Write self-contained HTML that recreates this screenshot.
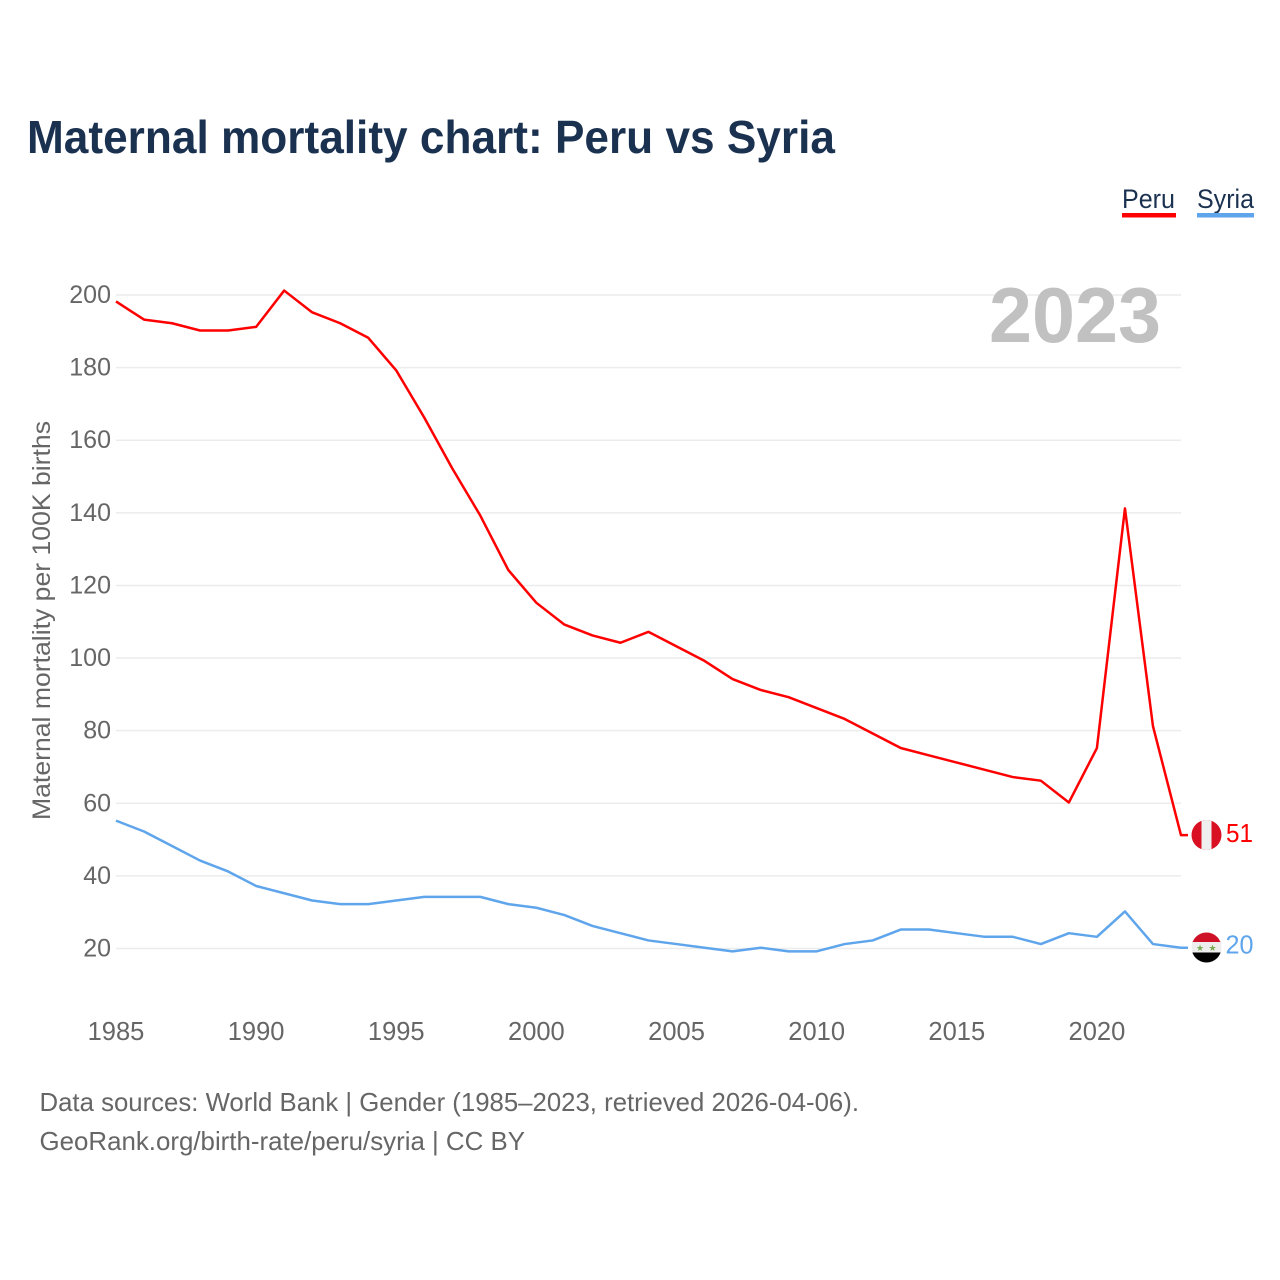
<!DOCTYPE html>
<html lang="en">
<head>
<meta charset="utf-8">
<title>Maternal mortality chart: Peru vs Syria</title>
<style>
html,body{margin:0;padding:0;background:#fff}
svg{display:block}
text{font-family:"Liberation Sans",sans-serif}
</style>
</head>
<body>
<svg id="chart" xmlns="http://www.w3.org/2000/svg" width="1280" height="1280" viewBox="0 0 1280 1280">
<defs>
<clipPath id="clip-peru"><circle cx="1206.500" cy="835" r="15"/></clipPath>
<clipPath id="clip-syria"><circle cx="1206.500" cy="947.500" r="15"/></clipPath>
</defs>
<rect x="0" y="0" width="1280" height="1280" fill="#fff"/>
<text x="27" y="153" font-size="46" font-weight="700" fill="#1a3150" textLength="808" lengthAdjust="spacingAndGlyphs">Maternal mortality chart: Peru vs Syria</text>

<g>
<text x="1122" y="208" font-size="27" fill="#1a3150" textLength="53" lengthAdjust="spacingAndGlyphs">Peru</text>
<rect x="1122" y="213" width="54" height="4.500" fill="#ff0000"/>
<text x="1197" y="208" font-size="27" fill="#1a3150" textLength="57" lengthAdjust="spacingAndGlyphs">Syria</text>
<rect x="1197" y="213" width="57" height="4.500" fill="#5fa5ec"/>
</g>

<g id="grid"></g>
<g id="yticks"></g>
<g id="xticks"></g>

<text transform="translate(50,820) rotate(-90)" x="0" y="0" font-size="25" fill="#666" textLength="399" lengthAdjust="spacingAndGlyphs">Maternal mortality per 100K births</text>

<text id="year-label" x="989" y="342" font-size="78" font-weight="700" fill="#c1c1c1" textLength="172" lengthAdjust="spacingAndGlyphs">2023</text>

<g id="series" transform="translate(0,-0.800)"></g>

<g clip-path="url(#clip-peru)">
<rect x="1191" y="820" width="31" height="30" fill="#d91023"/>
<rect x="1201.500" y="820" width="10" height="30" fill="#efefef"/>
</g>
<g clip-path="url(#clip-syria)">
<rect x="1191" y="932" width="31" height="11" fill="#ce1126"/>
<rect x="1191" y="942" width="31" height="11" fill="#eeeeee"/>
<rect x="1191" y="952.500" width="31" height="11" fill="#000"/>
<text x="1200" y="951" font-size="9" fill="#7aa84f" text-anchor="middle" style='font-family:"DejaVu Sans",sans-serif'>★</text>
<text x="1212.500" y="951" font-size="9" fill="#7aa84f" text-anchor="middle" style='font-family:"DejaVu Sans",sans-serif'>★</text>
</g>

<text id="end-peru" x="1226" y="842" font-size="26" fill="#ff0000" textLength="27" lengthAdjust="spacingAndGlyphs"></text>
<text id="end-syria" x="1225.500" y="953.500" font-size="26" fill="#5fa5ec" textLength="28" lengthAdjust="spacingAndGlyphs"></text>

<text x="39.500" y="1111" font-size="26" fill="#666" textLength="819.500" lengthAdjust="spacingAndGlyphs">Data sources: World Bank | Gender (1985–2023, retrieved 2026-04-06).</text>
<text x="39.500" y="1150" font-size="26" fill="#666" textLength="485.500" lengthAdjust="spacingAndGlyphs">GeoRank.org/birth-rate/peru/syria | CC BY</text>
</svg>
<script>
const years = [1985,1986,1987,1988,1989,1990,1991,1992,1993,1994,1995,1996,1997,1998,1999,2000,2001,2002,2003,2004,2005,2006,2007,2008,2009,2010,2011,2012,2013,2014,2015,2016,2017,2018,2019,2020,2021,2022,2023];
const peru = [198,193,192,190,190,191,201,195,192,188,179,166,152,139,124,115,109,106,104,107,103,99,94,91,89,86,83,79,75,73,71,69,67,66,60,75,141,81,51];
const syria = [55,52,48,44,41,37,35,33,32,32,33,34,34,34,32,31,29,26,24,22,21,20,19,20,19,19,21,22,25,25,24,23,23,21,24,23,30,21,20];
const yTickValues = [20,40,60,80,100,120,140,160,180,200];
const xTickValues = [1985,1990,1995,2000,2005,2010,2015,2020];

const NS = 'http://www.w3.org/2000/svg';
function xScale(year) {
  return 116 + (year - 1985) * (1181 - 116) / (2023 - 1985);
}
function yScale(value) {
  return 948.5 - (value - 20) * (948.5 - 295) / (200 - 20);
}

const grid = document.getElementById('grid');
const yticks = document.getElementById('yticks');
const xticks = document.getElementById('xticks');
const seriesGroup = document.getElementById('series');

yTickValues.forEach(function (v) {
  const line = document.createElementNS(NS, 'line');
  
  
  line.setAttribute('x1', 116);
  line.setAttribute('x2', 1181);
  line.setAttribute('y1', yScale(v));
  line.setAttribute('y2', yScale(v));
  line.setAttribute('stroke', '#ececec');
  line.setAttribute('stroke-width', '1.500');
  grid.appendChild(line);

  const label = document.createElementNS(NS, 'text');
  
  
  label.setAttribute('x', 111);
  label.setAttribute('y', yScale(v) + 8);
  label.setAttribute('text-anchor', 'end');
  label.setAttribute('font-size', '25');
  label.setAttribute('fill', '#666');
  label.textContent = String(v);
  yticks.appendChild(label);
});

xTickValues.forEach(function (yr) {
  const label = document.createElementNS(NS, 'text');
  
  
  label.setAttribute('x', xScale(yr));
  label.setAttribute('y', 1040);
  label.setAttribute('text-anchor', 'middle');
  label.setAttribute('font-size', '25.500');
  label.setAttribute('fill', '#666');
  label.textContent = String(yr);
  xticks.appendChild(label);
});

function drawSeries(values, color) {
  let d = '';
  values.forEach(function (v, i) {
    d += (i === 0 ? 'M' : 'L') + xScale(years[i]).toFixed(2) + ' ' + yScale(v).toFixed(2);
  });
  const last = values[values.length - 1];
  d += 'L1188 ' + yScale(last).toFixed(2);
  const path = document.createElementNS(NS, 'path');
  
  
  path.setAttribute('d', d);
  path.setAttribute('fill', 'none');
  path.setAttribute('stroke', color);
  path.setAttribute('stroke-width', '2.500');
  path.setAttribute('stroke-linejoin', 'round');
  seriesGroup.appendChild(path);
}
drawSeries(peru, '#ff0000');
drawSeries(syria, '#5fa5ec');

document.getElementById('end-peru').textContent = String(peru[peru.length - 1]);
document.getElementById('end-syria').textContent = String(syria[syria.length - 1]);
</script>
</body>
</html>
